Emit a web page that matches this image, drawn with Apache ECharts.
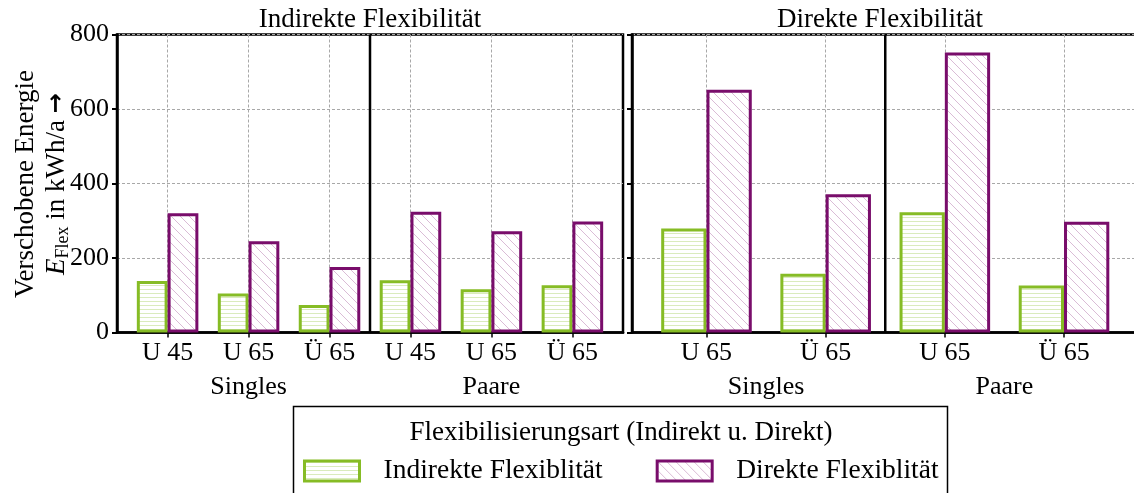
<!DOCTYPE html>
<html>
<head>
<meta charset="utf-8">
<script src="https://cdn.jsdelivr.net/npm/echarts@6/dist/echarts.min.js"></script>
<style>
  html, body { margin: 0; padding: 0; background: #fff; }
  #chart { width: 1134px; height: 493px; }
</style>
</head>
<body>
<div id="chart"></div>
<script>
// Household types shown per panel
const indirectCategories = ['U 45', 'U 65', 'Ü 65', 'U 45', 'U 65', 'Ü 65'];
const directCategories = ['U 65', 'Ü 65', 'U 65', 'Ü 65'];
const householdGroups = ['Singles', 'Paare'];
const panelTitles = ['Indirekte Flexibilität', 'Direkte Flexibilität'];
const seriesNames = ['Indirekte Flexiblität', 'Direkte Flexiblität'];
const legendTitle = 'Flexibilisierungsart (Indirekt u. Direkt)';

// Shifted energy E_Flex in kWh/a
const indirectPanelIndirect = [138, 105, 74, 140, 116, 127];
const indirectPanelDirect = [320, 245, 176, 324, 272, 298];
const directPanelIndirect = [279, 158, 323, 126];
const directPanelDirect = [652, 371, 752, 297];

const yMin = 0, yMax = 800, yStep = 200;

const FONT = '"Liberation Serif", "Times New Roman", serif';
const GREEN = '#86bc25';
const PURPLE = '#790d6b';

// Hatch fills drawn on small canvases
function hatchFill(kind) {
  const c = document.createElement('canvas');
  const ctx = c.getContext('2d');
  if (kind === 'horizontal') {
    c.width = 8; c.height = 4;
    ctx.fillStyle = '#fff'; ctx.fillRect(0, 0, 8, 4);
    ctx.fillStyle = 'rgba(134,188,37,0.3)';
    ctx.fillRect(0, 1, 8, 1);
  } else {
    const s = 9;
    c.width = s; c.height = s;
    ctx.fillStyle = '#fff'; ctx.fillRect(0, 0, s, s);
    ctx.strokeStyle = 'rgba(121,13,107,0.28)';
    ctx.lineWidth = 1;
    ctx.beginPath();
    ctx.moveTo(-1, -1); ctx.lineTo(s + 1, s + 1);
    ctx.moveTo(-1, s - 1); ctx.lineTo(1, s + 1);
    ctx.moveTo(s - 1, -1); ctx.lineTo(s + 1, 1);
    ctx.stroke();
  }
  return { image: c, repeat: 'repeat' };
}
const greenFill = hatchFill('horizontal');
const purpleFill = hatchFill('diagonal');

const positions = (arr) => arr.map((_, i) => i);
const toPoints = (vals) => vals.map((v, i) => [i, v]);
const groupSizeLeft = indirectCategories.length / householdGroups.length;
const groupSizeRight = directCategories.length / householdGroups.length;
const groupCenters = (size) => householdGroups.map((_, g) => g * size + (size - 1) / 2);
const dividers = (size) => householdGroups.slice(1).map((_, g) => (g + 1) * size - 0.5);

const gridLine = { show: true, lineStyle: { color: '#a8a8a8', width: 1, type: [3, 2] } };
const axisBlack = { show: true, onZero: false, lineStyle: { color: '#000', width: 2.5 } };

function categoryAxis(gridIndex, cats) {
  const n = cats.length;
  return {
    type: 'value', gridIndex, min: -0.625, max: n - 1 + 0.625,
    axisLine: axisBlack,
    axisTick: { show: true, customValues: positions(cats), length: 5, lineStyle: { color: '#000', width: 1.5 } },
    axisLabel: {
      customValues: positions(cats), margin: 8, color: '#000', fontSize: 26, fontFamily: FONT,
      formatter: (v) => cats[Math.round(v)]
    },
    splitLine: gridLine
  };
}
function groupAxis(gridIndex, cats, size) {
  const n = cats.length;
  return {
    type: 'value', gridIndex, min: -0.625, max: n - 1 + 0.625, position: 'bottom',
    axisLine: { show: false, onZero: false }, axisTick: { show: false }, splitLine: { show: false },
    axisLabel: {
      customValues: groupCenters(size), margin: 42, color: '#000', fontSize: 26, fontFamily: FONT,
      formatter: (v) => householdGroups[Math.round((v - (size - 1) / 2) / size)]
    }
  };
}
function valueAxis(gridIndex, withLabels) {
  return {
    type: 'value', gridIndex, min: yMin, max: yMax, interval: yStep,
    axisLine: axisBlack,
    axisTick: { show: true, length: 5, lineStyle: { color: '#000', width: 2 } },
    axisLabel: { show: withLabels, margin: 8, color: '#000', fontSize: 26, fontFamily: FONT },
    splitLine: gridLine
  };
}
function barSeries(name, xi, yi, vals, fill, stroke) {
  return {
    name, type: 'bar', xAxisIndex: xi, yAxisIndex: yi,
    data: toPoints(vals), barWidth: '38%', barGap: '0%',
    itemStyle: { color: fill, borderColor: stroke, borderWidth: 3 },
    emphasis: { disabled: true }
  };
}
// Solid separators between the household groups
function dividerSeries(xi, yi, divs) {
  return divs.map((d) => ({
    type: 'line', xAxisIndex: xi, yAxisIndex: yi, silent: true, symbol: 'none',
    data: [[d, yMin], [d, yMax]],
    lineStyle: { color: '#000', width: 2.5 }, z: 3
  }));
}

const chart = echarts.init(document.getElementById('chart'), null, { renderer: 'canvas' });
chart.setOption({
  animation: false,
  backgroundColor: '#fff',
  grid: [
    { left: 117, top: 34.5, width: 506, height: 298, containLabel: false, outerBoundsMode: 'none',
      show: true, borderColor: '#000', borderWidth: 2.5, backgroundColor: 'transparent' },
    { left: 632, top: 34.5, width: 506.5, height: 298, containLabel: false, outerBoundsMode: 'none',
      show: true, borderColor: '#000', borderWidth: 2.5, backgroundColor: 'transparent' }
  ],
  xAxis: [
    categoryAxis(0, indirectCategories),
    groupAxis(0, indirectCategories, groupSizeLeft),
    categoryAxis(1, directCategories),
    groupAxis(1, directCategories, groupSizeRight)
  ],
  yAxis: [valueAxis(0, true), valueAxis(1, false)],
  legend: {
    left: 298, top: 452, itemWidth: 55, itemHeight: 20, itemGap: 53,
    icon: 'rect', data: seriesNames,
    itemStyle: { borderWidth: 3 },
    textStyle: { fontSize: 27.5, fontFamily: FONT, color: '#000', padding: [0, 0, 0, 19] },
    selectedMode: false
  },
  series: [
    barSeries(seriesNames[0], 0, 0, indirectPanelIndirect, greenFill, GREEN),
    barSeries(seriesNames[1], 0, 0, indirectPanelDirect, purpleFill, PURPLE),
    barSeries(seriesNames[0], 2, 1, directPanelIndirect, greenFill, GREEN),
    barSeries(seriesNames[1], 2, 1, directPanelDirect, purpleFill, PURPLE),
    ...dividerSeries(0, 0, dividers(groupSizeLeft)),
    ...dividerSeries(2, 1, dividers(groupSizeRight))
  ],
  graphic: [
    { type: 'text', x: 370, y: 20, style: { text: panelTitles[0], fontSize: 27, fontFamily: FONT, fill: '#000', align: 'center', verticalAlign: 'middle' } },
    { type: 'text', x: 880, y: 20, style: { text: panelTitles[1], fontSize: 27, fontFamily: FONT, fill: '#000', align: 'center', verticalAlign: 'middle' } },
    {
      type: 'group', x: 26, y: 184, rotation: Math.PI / 2,
      children: [
        { type: 'text', x: 0, y: 0, style: { text: 'Verschobene Energie', fontSize: 27, fontFamily: FONT, fill: '#000', align: 'center', verticalAlign: 'middle' } },
        { type: 'text', x: 0, y: 31, style: {
            text: '{e|E}{s|Flex}{n| in kWh/a }{a|→}', fill: '#000', align: 'center', verticalAlign: 'middle',
            rich: {
              e: { fontSize: 27, fontFamily: FONT, fontStyle: 'italic', fill: '#000' },
              s: { fontSize: 18, fontFamily: FONT, fill: '#000', padding: [12, 0, 0, 0] },
              n: { fontSize: 27, fontFamily: FONT, fill: '#000' },
              a: { fontSize: 24, fontFamily: '"DejaVu Sans", sans-serif', fontWeight: 'bold', fill: '#000' }
            }
        } }
      ]
    },
    { type: 'rect', shape: { x: 293.5, y: 406.5, width: 654, height: 120 }, style: { fill: 'transparent', stroke: '#000', lineWidth: 1.5 }, z: 10 },
    { type: 'text', x: 621, y: 433, style: { text: legendTitle, fontSize: 27, fontFamily: FONT, fill: '#000', align: 'center', verticalAlign: 'middle' }, z: 10 }
  ]
});
</script>
</body>
</html>
